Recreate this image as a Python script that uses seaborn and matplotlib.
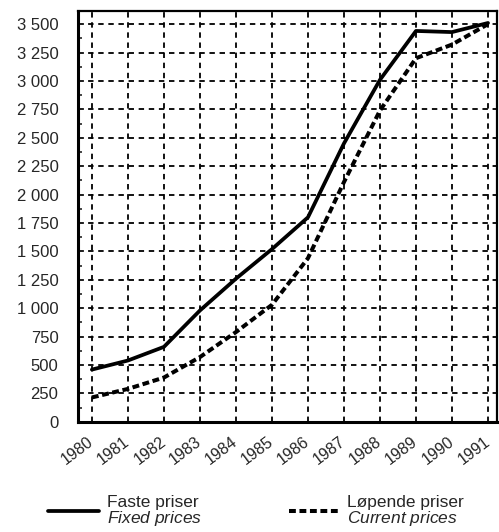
import numpy as np
import pandas as pd
import matplotlib
matplotlib.use("Agg")
import matplotlib.pyplot as plt
import seaborn as sns
from matplotlib.ticker import FuncFormatter, MultipleLocator

# Data
years = [1980, 1981, 1982, 1983, 1984, 1985, 1986, 1987, 1988, 1989, 1990, 1991]
fixed_prices = [460, 540, 660, 980, 1260, 1520, 1800, 2450, 3010, 3440, 3430, 3510]
current_prices = [215, 290, 390, 570, 790, 1030, 1440, 2110, 2740, 3200, 3320, 3500]
label_fixed = "Faste priser\n$\\it{Fixed\\ prices}$"
label_current = "Løpende priser\n$\\it{Current\\ prices}$"

sns.set_style("white")
plt.rcParams["font.family"] = ["Liberation Sans", "DejaVu Sans"]
plt.rcParams["mathtext.fontset"] = "custom"
plt.rcParams["mathtext.it"] = "Liberation Sans:italic"
plt.rcParams["mathtext.rm"] = "Liberation Sans"

df = pd.DataFrame({"year": years, "fixed": fixed_prices, "current": current_prices})

fig = plt.figure(figsize=(4.99, 5.32), dpi=100)
ax = fig.add_axes([0.156, 0.207, 0.84, 0.772])

sns.lineplot(data=df, x="year", y="fixed", ax=ax, color="black", lw=2.7,
             label=label_fixed)
sns.lineplot(data=df, x="year", y="current", ax=ax, color="black", lw=2.9,
             linestyle=(0, (1.7, 0.9)), label=label_current)

ax.set_xlim(1979.61, 1991.25)
ax.set_ylim(0, 3614)
ax.set_xticks(years)
ax.yaxis.set_major_locator(MultipleLocator(250))
ax.yaxis.set_minor_locator(MultipleLocator(125))
ax.yaxis.set_major_formatter(FuncFormatter(lambda v, p: f"{v:,.0f}".replace(",", " ")))
ax.set_xlabel("")
ax.set_ylabel("")

ax.grid(True, which="major", color="black", lw=1.3, linestyle=(0, (3.0, 2.6)))
for s in ax.spines.values():
    s.set_color("black")
    s.set_linewidth(1.6)
ax.spines["left"].set_linewidth(2.2)
ax.spines["bottom"].set_linewidth(2.2)

ax.tick_params(axis="y", which="both", direction="in", length=4, width=1.2,
               left=True, labelsize=12, pad=14)
ax.tick_params(axis="y", which="minor", length=3)
ax.tick_params(axis="x", length=0, labelsize=11.5, pad=13)
for lab in ax.get_xticklabels():
    lab.set_rotation(37)
    lab.set_ha("right")
    lab.set_va("center")
    lab.set_rotation_mode("anchor")

leg = ax.legend(loc="center", bbox_to_anchor=(0.513, 0.039), bbox_transform=fig.transFigure,
                ncol=2, frameon=False, fontsize=12.5, handlelength=2.9, handletextpad=0.45,
                columnspacing=5.0)
for t in leg.get_texts():
    t.set_linespacing(0.9)

fig.savefig("out.png", dpi=100)
